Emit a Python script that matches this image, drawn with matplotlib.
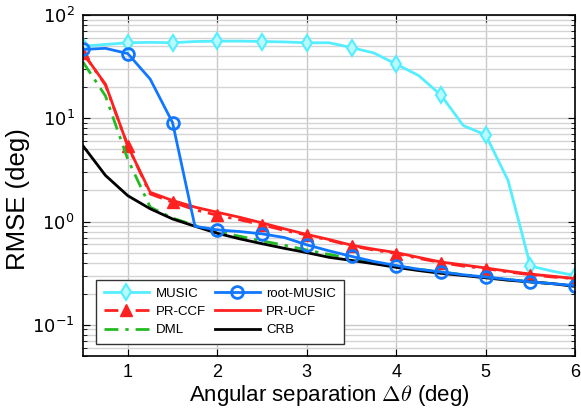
import matplotlib
matplotlib.use("Agg")
import matplotlib.pyplot as plt
import numpy as np

plt.rcParams['font.family'] = ['Liberation Sans', 'DejaVu Sans']
plt.rcParams['mathtext.fontset'] = 'dejavusans'

sep = [0.5, 0.75, 1.0, 1.25, 1.5, 1.75, 2.0, 2.25, 2.5, 2.75, 3.0, 3.25,
       3.5, 3.75, 4.0, 4.25, 4.5, 4.75, 5.0, 5.25, 5.5, 5.75, 6.0]

music = [50, 52, 54, 54.5, 54, 55.5, 56, 56, 55.5, 55, 54, 54,
         48.5, 43, 33.5, 26, 16.8, 8.5, 6.9, 2.5, 0.37, 0.33, 0.30]
root_music = [46.5, 47.7, 42.4, 24, 9.1, 0.90, 0.83, 0.80, 0.76, 0.70, 0.595, 0.52,
              0.46, 0.41, 0.375, 0.345, 0.325, 0.305, 0.29, 0.275, 0.26, 0.25, 0.24]
pr_ucf = [43, 21.4, 5.4, 1.92, 1.6, 1.38, 1.23, 1.10, 0.97, 0.85, 0.75, 0.67,
          0.59, 0.54, 0.50, 0.45, 0.405, 0.38, 0.355, 0.33, 0.31, 0.295, 0.28]
pr_ccf = [43, 21, 5.4, 1.85, 1.54, 1.30, 1.15, 1.04, 0.93, 0.82, 0.74, 0.66,
          0.58, 0.53, 0.49, 0.44, 0.40, 0.37, 0.35, 0.325, 0.305, 0.29, 0.28]
dml = [35, 16.5, 4.0, 1.38, 1.08, 0.92, 0.80, 0.72, 0.65, 0.59, 0.53, 0.48,
       0.44, 0.40, 0.37, 0.345, 0.325, 0.305, 0.29, 0.275, 0.26, 0.25, 0.24]
crb = [5.4, 2.8, 1.78, 1.33, 1.06, 0.90, 0.77, 0.68, 0.61, 0.55, 0.50, 0.45,
       0.42, 0.39, 0.36, 0.335, 0.315, 0.30, 0.285, 0.27, 0.26, 0.25, 0.235]

fig = plt.figure(figsize=(5.81, 4.09), dpi=100)
ax = fig.add_axes([0.143, 0.13, 0.847, 0.833])

dashdot = (0, (5, 2.5, 1.2, 2.5))
h_music, = ax.plot(sep, music, color='#55eeff', lw=2, marker='d', ms=8, mew=1.5,
                   mfc='#b8f8ff', mec='#55eeff', markevery=2, label='MUSIC')
h_ccf, = ax.plot(sep, pr_ccf, color='#ff2020', lw=2, ls=dashdot, marker='^', ms=8,
                 mfc='#ff2020', mec='#ff2020', markevery=2, label='PR-CCF')
h_dml, = ax.plot(sep, dml, color='#22bb22', lw=2, ls=dashdot, label='DML')
h_crb, = ax.plot(sep, crb, color='black', lw=2, label='CRB')
h_ucf, = ax.plot(sep, pr_ucf, color='#ff2020', lw=2, label='PR-UCF')
h_root, = ax.plot(sep, root_music, color='#1177ff', lw=2, marker='o', ms=8.5, mew=2,
                  mfc='none', mec='#1177ff', markevery=2, label='root-MUSIC')

ax.set_yscale('log')
ax.set_xlim(0.5, 6)
ax.set_ylim(0.05, 100)
ax.set_xticks([1, 2, 3, 4, 5, 6])
ax.set_yticks([0.1, 1, 10, 100])
ax.set_yticklabels([r'$10^{-1}$', r'$10^{0}$', r'$10^{1}$', r'$10^{2}$'])
ax.tick_params(which='both', direction='in', top=True, right=True, labelsize=13)
ax.tick_params(which='major', length=5, pad=6)
ax.tick_params(which='minor', length=3)
ax.grid(True, which='major', color='#c8c8c8', lw=1)
ax.grid(True, which='minor', axis='y', color='#d4d4d4', lw=1)
ax.set_axisbelow(True)
for s in ax.spines.values():
    s.set_color('black')
    s.set_linewidth(1.2)

ax.set_xlabel(r'Angular separation $\Delta\theta$ (deg)', fontsize=16, labelpad=1,
              math_fontfamily='cm')
ax.set_ylabel('RMSE (deg)', fontsize=18.5)
ax.yaxis.set_label_coords(-0.108, 0.46)

leg = ax.legend(handles=[h_music, h_ccf, h_dml, h_root, h_ucf, h_crb], ncol=2,
                loc='lower left', bbox_to_anchor=(0.013, 0.015), fontsize=9.5,
                fancybox=False, framealpha=1, edgecolor='#333333',
                handlelength=3.4, handletextpad=0.5, columnspacing=0.7,
                borderpad=0.6, labelspacing=0.45, numpoints=1)
leg.get_frame().set_linewidth(1)

fig.savefig('out.png', dpi=100)
